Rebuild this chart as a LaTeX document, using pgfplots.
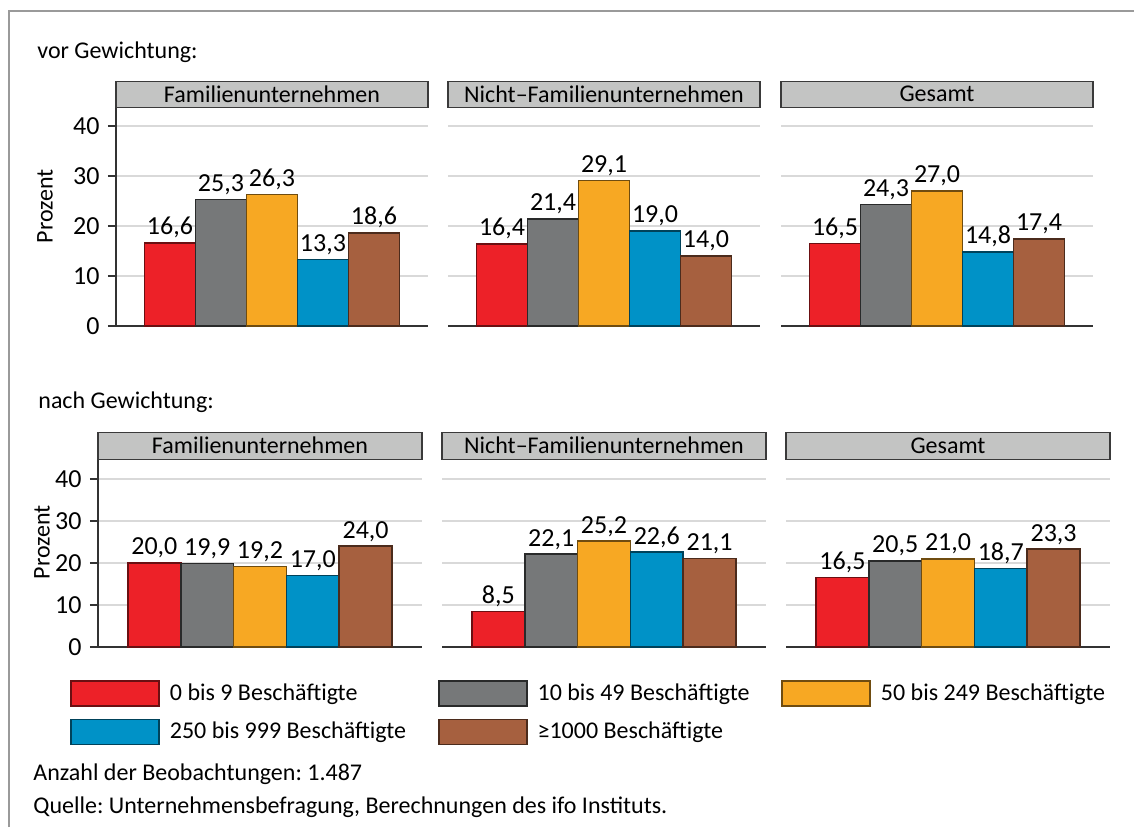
\documentclass[border=0pt,12pt]{standalone}
\usepackage{fontspec}
\setmainfont{Carlito}
\usepackage{pgfplots}
\usepackage{pgfplotstable}
\pgfplotsset{compat=1.18}
\frenchspacing

\definecolor{cRed}{HTML}{ED2128}
\definecolor{cGray}{HTML}{767879}
\definecolor{cOrange}{HTML}{F7A823}
\definecolor{cBlue}{HTML}{0092C7}
\definecolor{cBrown}{HTML}{A6603F}
\definecolor{boxgray}{HTML}{C3C4C3}
\definecolor{boxline}{HTML}{3A3A3A}
\definecolor{gridgray}{HTML}{D9D9D9}
\definecolor{axisgray}{HTML}{333333}
\definecolor{framegray}{HTML}{9A9A9A}

% shares in percent, one row per size class
\pgfplotstableread{
x vorFam vorNicht vorGes nachFam nachNicht nachGes
0 16.6 16.4 16.5 20.0 8.5 16.5
1 25.3 21.4 24.3 19.9 22.1 20.5
2 26.3 29.1 27.0 19.2 25.2 21.0
3 13.3 19.0 14.8 17.0 22.6 18.7
4 18.6 14.0 17.4 24.0 21.1 23.3
}\shares

\newcommand{\numfont}{\fontsize{13}{15}\selectfont}

\pgfplotsset{
  panel/.style={
    scale only axis, anchor=south west, clip=false,
    ybar, bar shift=0pt,
    ymin=0, xtick=\empty, ytick={0,10,20,30,40},
    ymajorgrids, grid style={draw=gridgray, line width=0.75pt},
    axis x line*=bottom, axis y line*=left,
    x axis line style={draw=axisgray, line width=0.75pt, -},
    y axis line style={draw=axisgray, line width=0.75pt, -},
    tick align=outside, major tick length=4pt,
    ytick style={draw=axisgray, line width=0.75pt},
    yticklabel style={font=\numfont},
    /pgf/number format/assume math mode=true,
    nodes near coords={\pgfmathprintnumber[fixed,fixed zerofill,precision=1,use comma,assume math mode=true]{\pgfplotspointmeta}},
    nodes near coords style={anchor=south, inner sep=2pt, text=black, font=\numfont},
    title style={at={(0.5,1)}, anchor=south, yshift=-6pt, fill=boxgray, draw=boxline,
      line width=0.75pt, inner sep=0pt},
    legend image code/.code={\draw[#1] (0pt,-6.25pt) rectangle (44pt,6.25pt);},
    every axis plot/.append style={line width=0.75pt},
  },
  inner/.style={y axis line style={draw=none}, ytick style={draw=none}, yticklabels={}},
  toprow/.style={width=156pt, height=109pt, ymax=43.6, xmin=-1.059, xmax=5.059,
    bar width=25.5pt, title style={minimum width=156pt, minimum height=13pt}},
  botrow/.style={width=162pt, height=93.5pt, ymax=44.52, xmin=-1.068, xmax=5.068,
    bar width=26.4pt, title style={minimum width=162pt, minimum height=13.5pt}},
}

\newcommand{\fivebars}[1]{%
  \addplot[fill=cRed, draw=cRed!45!black, restrict x to domain=-0.5:0.5] table[x=x, y=#1]{\shares};
  \addplot[fill=cGray, draw=cGray!35!black, restrict x to domain=0.5:1.5] table[x=x, y=#1]{\shares};
  \addplot[fill=cOrange, draw=cOrange!45!black, restrict x to domain=1.5:2.5] table[x=x, y=#1]{\shares};
  \addplot[fill=cBlue, draw=cBlue!45!black, restrict x to domain=2.5:3.5] table[x=x, y=#1]{\shares};
  \addplot[fill=cBrown, draw=cBrown!45!black, restrict x to domain=3.5:4.5] table[x=x, y=#1]{\shares};
}

\begin{document}
\begin{tikzpicture}
\path[use as bounding box] (0,0) rectangle (567pt,413.5pt);
\draw[framegray, line width=0.8pt] (4.5pt,0pt) -- (4.5pt,408pt) -- (567pt,408pt);

\node[anchor=base west, inner sep=0pt] at (18.5pt,384.5pt) {vor Gewichtung:};
\node[anchor=base west, inner sep=0pt] at (19pt,209.5pt) {nach Gewichtung:};
\node[anchor=base west, inner sep=0pt] at (16.5pt,23.5pt) {Anzahl der Beobachtungen: 1.487};
\node[anchor=base west, inner sep=0pt] at (16.5pt,7pt) {Quelle: Unternehmensbefragung, Berechnungen des ifo Instituts.};

% vor Gewichtung
\begin{axis}[panel, toprow, at={(58pt,250.5pt)}, title={Familienunternehmen},
  ylabel={Prozent}, ylabel style={at={(axis description cs:-0.2276,0.55)}, anchor=center}]
\fivebars{vorFam}
\end{axis}
\begin{axis}[panel, toprow, inner, at={(224pt,250.5pt)}, title={Nicht--Familienunternehmen}]
\fivebars{vorNicht}
\end{axis}
\begin{axis}[panel, toprow, inner, at={(390.5pt,250.5pt)}, title={Gesamt}]
\fivebars{vorGes}
\end{axis}

% nach Gewichtung
\begin{axis}[panel, botrow, at={(49pt,90pt)}, title={Familienunternehmen},
  ylabel={Prozent}, ylabel style={at={(axis description cs:-0.173,0.561)}, anchor=center},
  legend columns=3, legend cell align=left,
  legend style={at={(axis description cs:-0.0864,-0.1765)}, anchor=north west,
    draw=none, fill=none, inner sep=0pt, nodes={inner sep=0pt},
    column sep=5pt, row sep=6pt,
    /tikz/every even column/.append style={column sep=16pt}}]
\fivebars{nachFam}
\legend{0 bis 9 Beschäftigte, 10 bis 49 Beschäftigte, 50 bis 249 Beschäftigte,
  250 bis 999 Beschäftigte, ≥1000 Beschäftigte}
\end{axis}
\begin{axis}[panel, botrow, inner, at={(221pt,90pt)}, title={Nicht--Familienunternehmen}]
\fivebars{nachNicht}
\end{axis}
\begin{axis}[panel, botrow, inner, at={(393pt,90pt)}, title={Gesamt}]
\fivebars{nachGes}
\end{axis}
\end{tikzpicture}
\end{document}
